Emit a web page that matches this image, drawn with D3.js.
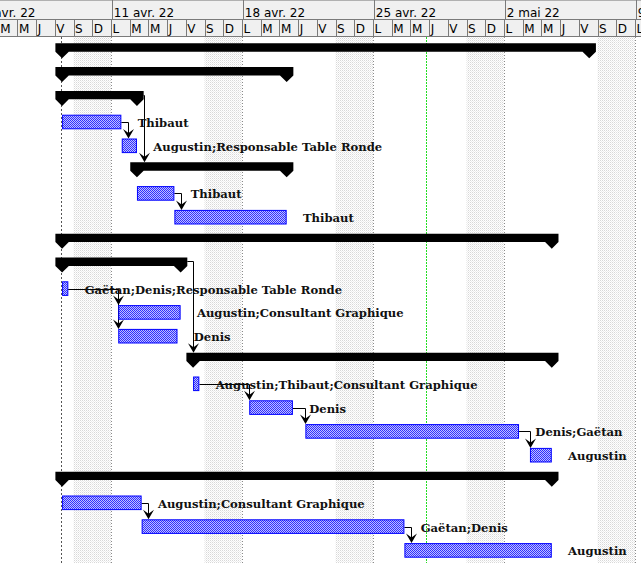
<!DOCTYPE html>
<html><head><meta charset="utf-8">
<script src="https://cdn.jsdelivr.net/npm/d3@7"></script>
<style>html,body{margin:0;padding:0;background:#fff;overflow:hidden}</style>
</head><body><svg id="c" width="641" height="563"></svg>
<script>
// ---------- DATA ----------
const rowTypes = ["summary","summary","summary","task","task","summary","task","task",
  "summary","summary","task","task","task","summary","task","task","task","task",
  "summary","task","task","task"];
const starts = ["2022-04-08T08:00","2022-04-08T08:00","2022-04-08T08:00","2022-04-08T08:00",
  "2022-04-11T12:30","2022-04-12T08:00","2022-04-12T08:00","2022-04-14T08:00",
  "2022-04-08T08:00","2022-04-08T08:00","2022-04-08T08:00","2022-04-11T08:00",
  "2022-04-11T08:00","2022-04-15T08:00","2022-04-15T08:00","2022-04-18T08:00",
  "2022-04-21T08:00","2022-05-03T08:00","2022-04-08T08:00","2022-04-08T08:00",
  "2022-04-12T14:00","2022-04-26T15:00"];
const ends = ["2022-05-06T12:00","2022-04-20T08:00","2022-04-12T08:00","2022-04-11T12:00",
  "2022-04-12T08:00","2022-04-20T08:00","2022-04-14T08:00","2022-04-20T08:00",
  "2022-05-04T12:00","2022-04-14T16:00","2022-04-08T16:00","2022-04-14T16:00",
  "2022-04-14T12:00","2022-05-04T12:00","2022-04-15T16:00","2022-04-20T16:00",
  "2022-05-02T18:00","2022-05-04T12:00","2022-05-04T12:00","2022-04-12T14:00",
  "2022-04-26T15:00","2022-05-04T12:00"];
const resources = ["","","","Thibaut","Augustin;Responsable Table Ronde","","Thibaut","Thibaut",
  "","","Gaëtan;Denis;Responsable Table Ronde","Augustin;Consultant Graphique","Denis",
  "","Augustin;Thibaut;Consultant Graphique","Denis","Denis;Gaëtan","Augustin",
  "","Augustin;Consultant Graphique","Gaëtan;Denis","Augustin"];
// links: [predecessor row, successor row] (1-based)
const links = [[4,5],[3,6],[7,8],[10,14],[11,12],[11,13],[15,16],[16,17],[17,18],[20,21],[21,22]];
const weekLabels = ["4 avr. 22","11 avr. 22","18 avr. 22","25 avr. 22","2 mai 22","9 mai 22"];
const dayLetters = ["L","M","M","J","V","S","D"];
const projectStart = "2022-04-08T08:00";
const statusDate = "2022-04-27T18:45";

// ---------- LAYOUT ----------
const W = 641, H = 563, topRowH = 20, headerH = 37, rowH = 23.8;
const parse = d3.utcParse("%Y-%m-%dT%H:%M");
const x = d3.scaleUtc()
  .domain([parse("2022-04-11T00:00"), parse("2022-05-09T00:00")])
  .range([112, 636]);
const y = d3.scaleLinear().domain([0, rowTypes.length]).range([headerH, headerH + rowTypes.length * rowH]);

const rows = rowTypes.map((t, i) => ({i, type: t, start: parse(starts[i]), end: parse(ends[i]), res: resources[i]}));

const svg = d3.select("#c");
const defs = svg.append("defs");
const wp = defs.append("pattern").attr("id","wk").attr("width",2).attr("height",2).attr("patternUnits","userSpaceOnUse");
wp.append("rect").attr("width",2).attr("height",2).attr("fill","#ffffff");
wp.append("rect").attr("x",0).attr("y",0).attr("width",1).attr("height",1).attr("fill","#d8d8d8");
wp.append("rect").attr("x",1).attr("y",1).attr("width",1).attr("height",1).attr("fill","#ececec");
const bp = defs.append("pattern").attr("id","bar").attr("width",2).attr("height",2).attr("patternUnits","userSpaceOnUse");
bp.append("rect").attr("width",2).attr("height",2).attr("fill","#c0c0ff");
bp.append("rect").attr("x",0).attr("y",0).attr("width",1).attr("height",1).attr("fill","#3030ff");
bp.append("rect").attr("x",1).attr("y",1).attr("width",1).attr("height",1).attr("fill","#3030ff");

svg.append("rect").attr("width",W).attr("height",H).attr("fill","#fff");

const d0 = x.invert(0), d1 = x.invert(W);
const days = d3.utcDay.range(d3.utcDay.floor(d0), d1);
const mondays = d3.utcMonday.range(d3.utcMonday.floor(d0), d1);

// weekends
svg.append("g").selectAll("rect")
  .data(days.filter(d => d.getUTCDay() === 6 || d.getUTCDay() === 0))
  .join("rect")
  .attr("x", d => x(d) - 1).attr("width", d => x(d3.utcDay.offset(d,1)) - x(d))
  .attr("y", headerH).attr("height", H - headerH)
  .attr("fill", "url(#wk)");

// week gridlines
svg.append("g").selectAll("line").data(mondays).join("line")
  .attr("x1", d => Math.round(x(d)) - 0.5).attr("x2", d => Math.round(x(d)) - 0.5)
  .attr("y1", headerH).attr("y2", H)
  .attr("stroke", "#8a8a8a").attr("stroke-dasharray","1,2");
// project start line
svg.append("line")
  .attr("x1", Math.round(x(parse(projectStart))) - 0.5).attr("x2", Math.round(x(parse(projectStart))) - 0.5)
  .attr("y1", headerH).attr("y2", H).attr("stroke","#555").attr("stroke-dasharray","2,2");
// status line
svg.append("line")
  .attr("x1", Math.round(x(parse(statusDate))) + 0.5).attr("x2", Math.round(x(parse(statusDate))) + 0.5)
  .attr("y1", headerH).attr("y2", H).attr("stroke","#22dd22").attr("stroke-dasharray","2,1");

// ---------- HEADER ----------
const hdr = svg.append("g");
hdr.append("rect").attr("width",W).attr("height",headerH).attr("fill","#f0f0f0");
hdr.append("line").attr("x1",0).attr("x2",W).attr("y1",0.5).attr("y2",0.5).attr("stroke","#b0b0b0");
hdr.append("line").attr("x1",0).attr("x2",W).attr("y1",topRowH - 0.5).attr("y2",topRowH - 0.5).attr("stroke","#7a7a7a");
hdr.append("line").attr("x1",0).attr("x2",W).attr("y1",headerH - 0.5).attr("y2",headerH - 0.5).attr("stroke","#7a7a7a");
hdr.selectAll(".ws").data(mondays).join("line")
  .attr("x1", d => Math.round(x(d)) + 0.5).attr("x2", d => Math.round(x(d)) + 0.5)
  .attr("y1", 0).attr("y2", topRowH).attr("stroke","#7a7a7a");
hdr.selectAll(".wt").data(mondays).join("text")
  .attr("x", d => x(d) + 1.8).attr("y", 16.5)
  .attr("font-family","DejaVu Sans").attr("font-size",12).attr("fill","#000")
  .text((d,i) => weekLabels[i]);
hdr.selectAll(".ds").data(days).join("line")
  .attr("x1", d => Math.round(x(d)) - 0.5).attr("x2", d => Math.round(x(d)) - 0.5)
  .attr("y1", topRowH).attr("y2", headerH).attr("stroke","#7a7a7a");
hdr.selectAll(".dt").data(days).join("text")
  .attr("x", d => x(d) + 0.5).attr("y", 33)
  .attr("font-family","DejaVu Sans").attr("font-size",12).attr("fill","#000")
  .text(d => dayLetters[(d.getUTCDay() + 6) % 7]);

// ---------- LINKS ----------
const lg = svg.append("g");
links.forEach(([p, s]) => {
  const P = rows[p-1], S = rows[s-1];
  let sx, sy, exitX;
  if (P.type === "task") { sx = x(P.end); sy = y(P.i) + 13.6; exitX = sx + 6.5; }
  else { sx = x(P.end) + 6.7; sy = y(P.i) + 10; exitX = sx; }
  const ax = Math.round(Math.max(exitX, x(S.start))) + 0.5;
  const t = y(S.i) + 6.3;
  lg.append("path")
    .attr("d", `M${sx},${Math.round(sy)+0.5}H${ax}V${t-3}`)
    .attr("fill","none").attr("stroke","#000").attr("stroke-width",1);
  lg.append("path")
    .attr("d", `M${ax-5.5},${t-9.5}L${ax},${t-5.5}L${ax+5.5},${t-9.5}L${ax},${t}Z`)
    .attr("fill","#000");
});

// ---------- BARS ----------
const bg = svg.append("g");
rows.filter(r => r.type === "summary").forEach(r => {
  const xs = x(r.start), xe = x(r.end), top = y(r.i) + 6.3, e = 6.7;
  bg.append("path")
    .attr("d", `M${xs-e},${top}H${xe+e}V${top+8.4}L${xe},${top+15}L${xe-e},${top+8.4}H${xs+e}L${xs},${top+15}L${xs-e},${top+8.4}Z`)
    .attr("fill","#000");
});
bg.selectAll("rect.task").data(rows.filter(r => r.type === "task")).join("rect")
  .attr("class","task")
  .attr("x", d => x(d.start) + 0.5).attr("width", d => x(d.end) - x(d.start) - 1)
  .attr("y", d => y(d.i) + 6.8).attr("height", 13.6)
  .attr("fill","url(#bar)").attr("stroke","#0000ff").attr("stroke-width",1);

// ---------- LABELS ----------
svg.append("g").selectAll("text").data(rows.filter(r => r.type === "task")).join("text")
  .attr("x", d => x(d.end) + 16.3).attr("y", d => y(d.i) + 18.6)
  .attr("font-family","DejaVu Serif").attr("font-weight","bold").attr("font-size",11.6)
  .attr("fill","#111")
  .text(d => d.res);
</script>
</body></html>
